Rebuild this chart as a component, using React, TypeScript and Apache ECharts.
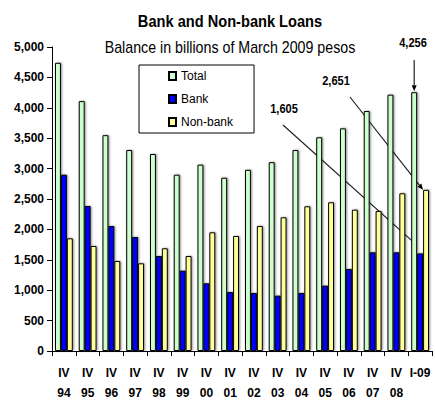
import React, { useEffect, useRef } from "react";
import * as echarts from "echarts";

const categories = [
  "IV\n94", "IV\n95", "IV\n96", "IV\n97", "IV\n98", "IV\n99", "IV\n00", "IV\n01",
  "IV\n02", "IV\n03", "IV\n04", "IV\n05", "IV\n06", "IV\n07", "IV\n08", "I-09",
];
const totalValues = [4740, 4110, 3550, 3305, 3240, 2900, 3065, 2850, 2980, 3105, 3305, 3515, 3662, 3947, 4216, 4256];
const bankValues = [2900, 2385, 2055, 1875, 1562, 1321, 1113, 970, 954, 910, 954, 1075, 1349, 1623, 1623, 1605];
const nonBankValues = [1853, 1727, 1480, 1442, 1689, 1562, 1952, 1891, 2056, 2199, 2380, 2446, 2324, 2303, 2594, 2651];
const seriesNames = ["Total", "Bank", "Non-bank"];
const yTicks = { min: 0, max: 5000, interval: 500 };
const titleText = "Bank and Non-bank Loans";
const subtitleText = "Balance in billions of March 2009 pesos";

const W = 435;
const H = 409;
const FONT = "'Liberation Sans', Arial, sans-serif";
const fmt = (v: number) => v.toLocaleString("en-US");

export default function App() {
  const ref = useRef<HTMLDivElement>(null);
  useEffect(() => {
    document.body.style.margin = "0";
    const chart = echarts.init(ref.current!, null, { renderer: "svg" });
    const grid = { left: 52, right: 3, top: 47, bottom: 58 };
    const barStyle = (color: string) => ({
      color,
      borderColor: "#000",
      borderWidth: 1,
      shadowColor: "rgba(0,0,0,0.45)",
      shadowBlur: 2,
      shadowOffsetX: 1,
      shadowOffsetY: 0,
    });
    const option: any = {
      animation: false,
      textStyle: { fontFamily: FONT },
      grid,
      legend: {
        orient: "vertical",
        left: 139,
        top: 65,
        padding: [4, 21, 4, 29],
        itemGap: 9,
        itemWidth: 7,
        itemHeight: 8,
        borderColor: "#000",
        borderWidth: 1,
        icon: "rect",
        textStyle: { fontSize: 12, fontFamily: FONT, color: "#000", lineHeight: 14 },
        data: seriesNames,
      },
      xAxis: {
        type: "category",
        data: categories,
        axisLine: { lineStyle: { color: "#000", width: 1 } },
        axisTick: { show: true, length: 5, inside: false, lineStyle: { color: "#000" } },
        axisLabel: {
          interval: 0,
          fontSize: 12,
          fontWeight: "bold",
          color: "#000",
          lineHeight: 20,
          margin: 12,
          fontFamily: FONT,
        },
      },
      yAxis: {
        type: "value",
        min: yTicks.min,
        max: yTicks.max,
        interval: yTicks.interval,
        splitLine: { show: false },
        axisLine: { show: true, lineStyle: { color: "#000", width: 1 } },
        axisTick: { show: true, length: 5, lineStyle: { color: "#000" } },
        axisLabel: {
          fontSize: 12,
          fontWeight: "bold",
          color: "#000",
          margin: 8,
          fontFamily: FONT,
          formatter: (v: number) => fmt(v),
        },
      },
      series: [
        { name: seriesNames[0], type: "bar", data: totalValues, barGap: "0%", barCategoryGap: "25%", itemStyle: barStyle("#ccffcc") },
        { name: seriesNames[1], type: "bar", data: bankValues, barGap: "0%", barCategoryGap: "25%", itemStyle: barStyle("#0000ff") },
        { name: seriesNames[2], type: "bar", data: nonBankValues, barGap: "0%", barCategoryGap: "25%", itemStyle: barStyle("#ffff99") },
      ],
    };
    chart.setOption(option);

    // Annotations computed from the axis scales
    const last = categories.length - 1;
    const catW = (W - grid.left - grid.right) / categories.length;
    const bw = (catW * 0.75) / 3;
    const pt = (v: number) => chart.convertToPixel({ xAxisIndex: 0, yAxisIndex: 0 }, [last, v]) as number[];
    const pTotal = pt(totalValues[last]);
    const pBank = pt(bankValues[last]);
    const pNon = pt(nonBankValues[last]);

    const annotations = [
      { label: fmt(totalValues[last]), lx: 413, ly: 43, from: [pTotal[0] - bw, 60], to: [pTotal[0] - bw, pTotal[1] - 1] },
      { label: fmt(nonBankValues[last]), lx: 336, ly: 81, from: [350, 97], to: [pNon[0] + bw - 3, pNon[1]] },
      { label: fmt(bankValues[last]), lx: 284, ly: 109, from: [283, 125], to: [pBank[0] - 3, pBank[1] - 8] },
    ];

    const graphics: any[] = [
      {
        type: "text",
        x: 230,
        y: 21,
        scaleX: 0.86,
        style: { text: titleText, font: `bold 17px ${FONT}`, fill: "#000", textAlign: "center", textVerticalAlign: "middle" },
      },
      {
        type: "text",
        x: 230,
        y: 47,
        scaleX: 0.89,
        style: { text: subtitleText, font: `16px ${FONT}`, fill: "#000", textAlign: "center", textVerticalAlign: "middle" },
      },
    ];
    annotations.forEach((a) => {
      graphics.push({
        type: "text",
        x: a.lx,
        y: a.ly,
        scaleX: 0.85,
        style: { text: a.label, font: `bold 13px ${FONT}`, fill: "#000", textAlign: "center", textVerticalAlign: "middle" },
      });
      const [x1, y1] = a.from;
      const [x2, y2] = a.to;
      const dx = x2 - x1;
      const dy = y2 - y1;
      const len = Math.sqrt(dx * dx + dy * dy);
      const ux = dx / len;
      const uy = dy / len;
      const hl = 6;
      const hw = 2.5;
      const bx = x2 - ux * hl;
      const by = y2 - uy * hl;
      graphics.push({
        type: "line",
        shape: { x1, y1, x2: bx, y2: by },
        style: { stroke: "#222", lineWidth: 1.2 },
      });
      graphics.push({
        type: "polygon",
        shape: {
          points: [
            [x2, y2],
            [bx - uy * hw, by + ux * hw],
            [bx + uy * hw, by - ux * hw],
          ],
        },
        style: { fill: "#000" },
      });
    });
    chart.setOption({ graphic: graphics });

    return () => chart.dispose();
  }, []);
  return <div ref={ref} style={{ width: W, height: H }} />;
}
